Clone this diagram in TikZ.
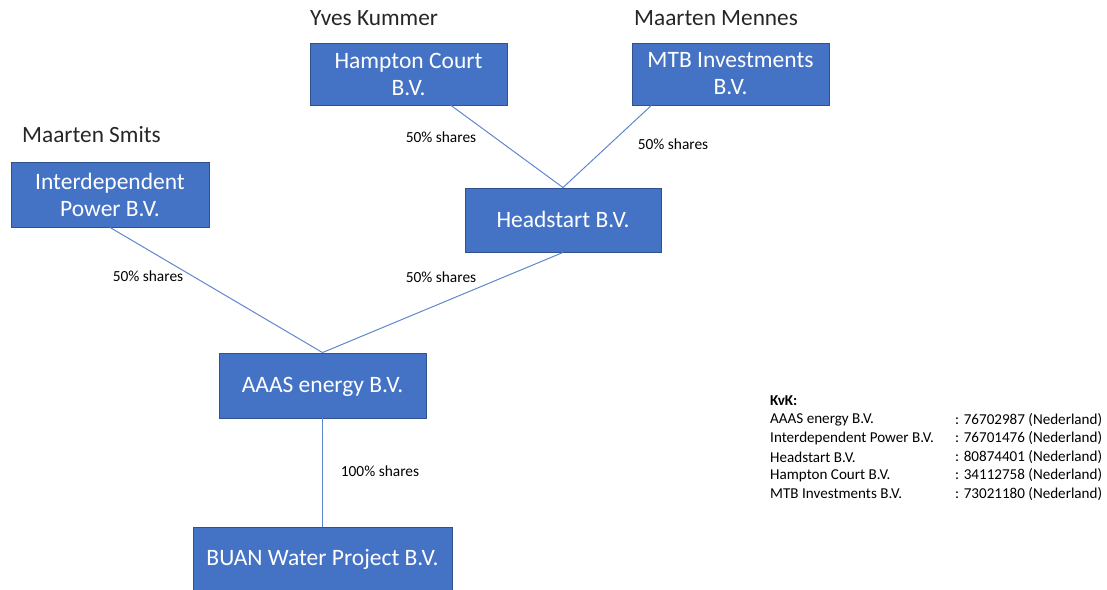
\documentclass[tikz,border=0pt]{standalone}
\usepackage{fontspec}
\setmainfont{Carlito}
\usetikzlibrary{calc}
\definecolor{boxfill}{HTML}{4472C4}
\definecolor{boxline}{HTML}{2F528F}
\definecolor{conncol}{HTML}{4472C4}
\definecolor{nametext}{HTML}{262626}
\tikzset{
  box/.style={draw=boxline, line width=0.9pt, fill=boxfill, text=white, align=center, inner sep=0pt,
    font=\fontsize{23.5}{27}\selectfont},
  onebox/.style={box, text depth=0pt, text height=14pt},
  conn/.style={draw=conncol!85, line width=1pt},
  owner/.style={text=nametext, anchor=west, inner sep=0pt, font=\fontsize{23.3}{26}\selectfont},
  lbl/.style={text=black, inner sep=0pt, font=\fontsize{15.4}{17}\selectfont},
  kvk/.style={text=black, anchor=west, inner sep=0pt, font=\fontsize{15.1}{17}\selectfont}
}
\begin{document}
\begin{tikzpicture}[x=1pt,y=-1pt]
\useasboundingbox (0,0) rectangle (1107,589);
% boxes
\node[box, minimum width=197pt, minimum height=62pt] (hc) at (408.5,74) {Hampton Court\\B.V.};
\node[box, minimum width=197pt, minimum height=62pt] (mtb) at (730.5,74) {MTB Investments\\B.V.};
\node[box, minimum width=198pt, minimum height=65pt] (ip) at (110,194.5) {Interdependent\\Power B.V.};
\node[onebox, minimum width=196pt, minimum height=64pt] (hs) at (563,220) {Headstart B.V.};
\node[onebox, minimum width=207pt, minimum height=65pt] (aaas) at (322.5,385.5) {AAAS energy B.V.};
\node[onebox, minimum width=259pt, minimum height=63pt] (buan) at (322.5,558.5) {BUAN Water Project B.V.};
% owners
\node[owner] (n1) at (310,18) {Yves Kummer};
\node[owner] (n2) at (634,18) {Maarten Mennes};
\node[owner] (n3) at (22,135) {Maarten Smits};
% connectors
\draw[conn] ($(hc.south west)!0.715!(hc.south east)$) -- (hs.north);
\draw[conn] ($(mtb.south west)!0.1!(mtb.south east)$) -- (hs.north);
\draw[conn] (ip.south) -- (aaas.north);
\draw[conn] (hs.south) -- (aaas.north);
\draw[conn] (aaas.south) -- (buan.north);
% labels
\node[lbl] (l1) at (441,137) {50\% shares};
\node[lbl] (l2) at (673,144) {50\% shares};
\node[lbl] (l3) at (148,276) {50\% shares};
\node[lbl] (l4) at (441,277) {50\% shares};
\node[lbl] (l5) at (380,471) {100\% shares};
% KvK table
\node[kvk, font=\fontsize{15.1}{17}\selectfont\bfseries] (k0) at (770,401) {KvK:};
\node[kvk] (k1a) at (770,420) {AAAS energy B.V.};
\node[kvk] (k2a) at (770,438.5) {Interdependent Power B.V.};
\node[kvk] (k3a) at (770,457) {Headstart B.V.};
\node[kvk] (k4a) at (770,475.5) {Hampton Court B.V.};
\node[kvk] (k5a) at (770,494) {MTB Investments B.V.};
\node[kvk] (k1b) at (955,420) {: 76702987 (Nederland)};
\node[kvk] (k2b) at (955,438.5) {: 76701476 (Nederland)};
\node[kvk] (k3b) at (955,457) {: 80874401 (Nederland)};
\node[kvk] (k4b) at (955,475.5) {: 34112758 (Nederland)};
\node[kvk] (k5b) at (955,494) {: 73021180 (Nederland)};
\end{tikzpicture}
\end{document}
